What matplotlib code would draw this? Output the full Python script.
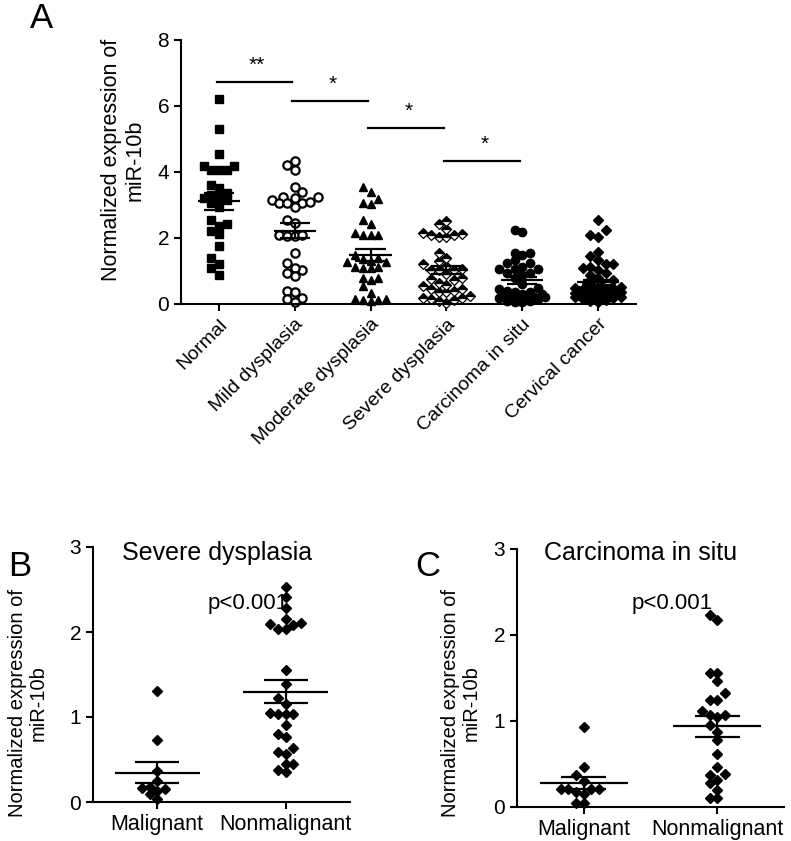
import numpy as np
import matplotlib
matplotlib.use('Agg')
import matplotlib.pyplot as plt

plt.rcParams['font.family'] = ['Liberation Sans', 'DejaVu Sans']

# ---------------- data ----------------
categories_A = ['Normal', 'Mild dysplasia', 'Moderate dysplasia',
                'Severe dysplasia', 'Carcinoma in situ', 'Cervical cancer']

normal = [6.2, 5.3, 4.55, 4.17, 4.18, 4.05, 4.05, 4.05, 3.62, 3.52, 3.37, 3.3,
          3.2, 3.15, 3.2, 3.05, 2.95, 2.55, 2.42, 2.35, 2.22, 2.12, 1.77, 1.4,
          1.2, 1.08, 0.87]
mild = [4.34, 4.21, 4.06, 3.54, 3.4, 3.25, 3.22, 3.25, 3.15, 3.06, 3.06, 3.05,
        3.08, 2.95, 2.55, 2.44, 2.1, 2.07, 2.07, 2.1, 1.54, 1.23, 1.03, 0.95,
        1.08, 0.85, 0.4, 0.35, 0.17, 0.14, 0.07]
moderate = [3.54, 3.4, 3.05, 3.03, 3.18, 2.42, 2.55, 2.1, 2.08, 2.1, 2.15, 1.48,
            1.38, 1.3, 1.28, 1.26, 1.35, 1.08, 1.12, 1.13, 1.08, 0.78, 0.8, 0.73,
            0.55, 0.34, 0.15, 0.12, 0.12, 0.15, 0.09]
severe_malignant = [1.31, 0.73, 0.37, 0.25, 0.17, 0.15, 0.13, 0.18, 0.09, 0.04]
severe_nonmalignant = [2.53, 2.41, 2.28, 2.15, 2.11, 2.08, 2.03, 2.03, 2.1, 1.55,
                       1.39, 1.22, 1.15, 1.04, 1.03, 1.03, 1.05, 0.91, 0.76, 0.8,
                       0.64, 0.59, 0.56, 0.45, 0.45, 0.35, 0.38]
cis_malignant = [0.93, 0.46, 0.37, 0.30, 0.21, 0.17, 0.21, 0.21, 0.21, 0.15,
                 0.05, 0.05]
cis_nonmalignant = [2.23, 2.17, 1.56, 1.56, 1.47, 1.32, 1.25, 1.25, 1.12, 1.07,
                    1.07, 1.05, 0.95, 0.87, 0.78, 0.62, 0.47, 0.38, 0.37, 0.31,
                    0.28, 0.2, 0.1, 0.1]
cervical = [2.55, 2.24, 2.09, 2.04, 1.57, 1.45, 1.33, 1.2, 1.2, 1.13, 1.08, 1.03,
            0.93, 0.88, 0.8, 0.72, 0.65,
            0.55, 0.52, 0.5, 0.48, 0.47, 0.45, 0.44, 0.42, 0.42, 0.4, 0.4, 0.38,
            0.38, 0.37, 0.36, 0.35, 0.34, 0.33, 0.32, 0.31, 0.3, 0.3, 0.29, 0.28,
            0.27, 0.26, 0.25, 0.24, 0.22, 0.2, 0.18, 0.15, 0.12, 0.1, 0.06]
severe = severe_malignant + severe_nonmalignant
cis = cis_malignant + cis_nonmalignant

groups_BC = ['Malignant', 'Nonmalignant']
sig_labels = ['**', '*', '*', '*']
sig_heights = [6.72, 6.15, 5.33, 4.33]

yticks_A = [0, 2, 4, 6, 8]
yticks_BC = [0, 1, 2, 3]

# ---------------- helpers ----------------
W, H, DPI = 791, 841, 100
fig = plt.figure(figsize=(W / DPI, H / DPI), dpi=DPI)


def add_ax(l, t, r, b):
    return fig.add_axes([l / W, 1 - b / H, (r - l) / W, (b - t) / H])


def style(ax, fs):
    for s in ['top', 'right']:
        ax.spines[s].set_visible(False)
    for s in ['left', 'bottom']:
        ax.spines[s].set_linewidth(1.5)
    ax.tick_params(width=1.5, length=5, direction='out', labelsize=fs,
                   colors='black')


def swarm(values, ax, d=7.7, maxc=3):
    bb = ax.get_window_extent()
    x0, x1 = ax.get_xlim()
    y0, y1 = ax.get_ylim()
    pxx = bb.width / (x1 - x0)
    pxy = bb.height / (y1 - y0)
    vals = np.asarray(values, float)
    order = np.argsort(vals)
    placed = []
    offs = np.zeros(len(vals))
    cands = [0]
    for m in range(1, maxc + 1):
        cands += [-m, m]
    fine = np.arange(-maxc, maxc + 0.01, 0.5)
    for idx in order:
        y = vals[idx] * pxy
        best = None
        for c in cands:
            x = c * d
            if all((x - px) ** 2 + (y - py) ** 2 >= (0.93 * d) ** 2
                   for px, py in placed):
                best = x
                break
        if best is None:
            scores = []
            for c in fine:
                x = c * d
                mind = min((x - px) ** 2 + (y - py) ** 2 for px, py in placed)
                scores.append(mind - 0.02 * abs(c))
            best = fine[int(np.argmax(scores))] * d
        placed.append((best, y))
        offs[idx] = best / pxx
    return offs


def group(ax, xc, values, mw, cw, maxc=3, **mk):
    offs = swarm(values, ax, maxc=maxc)
    ax.plot(xc + offs, values, linestyle='none', zorder=2, clip_on=False, **mk)
    v = np.asarray(values, float)
    m = v.mean()
    se = v.std(ddof=1) / np.sqrt(len(v))
    kw = dict(color='black', lw=1.6, zorder=3, solid_capstyle='butt')
    ax.plot([xc - mw, xc + mw], [m, m], **kw)
    ax.plot([xc - cw, xc + cw], [m + se, m + se], **kw)
    ax.plot([xc - cw, xc + cw], [m - se, m - se], **kw)
    ax.plot([xc, xc], [m - se, m + se], **kw)


YLAB = 'Normalized expression of\nmiR-10b'

# ---------------- panel A ----------------
axA = add_ax(181, 40, 636, 304)
axA.set_xlim(-0.5, 5.5)
axA.set_ylim(0, 8)
style(axA, 15)
axA.set_yticks(yticks_A)
axA.set_xticks(range(len(categories_A)))
axA.set_xticklabels(categories_A, rotation=45, ha='right', va='top',
                    rotation_mode='anchor', fontsize=14)

dataA = [normal, mild, moderate, severe, cis, cervical]
markersA = [
    dict(marker='s', ms=5.5, mfc='black', mec='black'),
    dict(marker='o', ms=6, mfc='white', mec='black', mew=1.6),
    dict(marker='^', ms=6, mfc='black', mec='black'),
    dict(marker='D', ms=5, fillstyle='top', mfc='black', mfcalt='white',
         mec='black', mew=0.9),
    dict(marker='o', ms=6, mfc='black', mec='black'),
    dict(marker='D', ms=5.5, mfc='black', mec='black'),
]
for i, (vals, mk) in enumerate(zip(dataA, markersA)):
    group(axA, i, vals, 0.28, 0.2, maxc=3, **mk)

for i, (lab, h) in enumerate(zip(sig_labels, sig_heights)):
    axA.plot([i - 0.03, i + 1 - 0.03], [h, h], color='black', lw=1.6,
             clip_on=False)
    axA.text(i + 0.5, h + 0.22, lab, ha='center', va='bottom', fontsize=15)

fig.text(123 / W, 1 - 160 / H, YLAB, rotation=90, ha='center', va='center',
         fontsize=15.5, linespacing=1.15)
fig.text(41 / W, 1 - 18 / H, 'A', ha='center', va='center', fontsize=25)

# ---------------- panel B ----------------
axB = add_ax(93, 547, 350, 802)
axB.set_xlim(-0.5, 1.5)
axB.set_ylim(0, 3)
style(axB, 15)
axB.set_yticks(yticks_BC)
axB.set_xticks([0, 1])
axB.set_xticklabels(groups_BC, fontsize=15.5)
mkD = dict(marker='D', ms=5.5, mfc='black', mec='black')
group(axB, 0, severe_malignant, 0.33, 0.17, **mkD)
group(axB, 1, severe_nonmalignant, 0.33, 0.17, **mkD)
fig.text(217 / W, 1 - 553 / H, 'Severe dysplasia', ha='center', va='center',
         fontsize=18)
fig.text(248 / W, 1 - 603 / H, 'p<0.001', ha='center', va='center',
         fontsize=16)
fig.text(28 / W, 1 - 703 / H, YLAB, rotation=90, ha='center', va='center',
         fontsize=14.5, linespacing=1.15)
fig.text(20 / W, 1 - 566 / H, 'B', ha='center', va='center', fontsize=25)

# ---------------- panel C ----------------
axC = add_ax(517, 549, 784, 807)
axC.set_xlim(-0.5, 1.5)
axC.set_ylim(0, 3)
style(axC, 15)
axC.set_yticks(yticks_BC)
axC.set_xticks([0, 1])
axC.set_xticklabels(groups_BC, fontsize=15.5)
group(axC, 0, cis_malignant, 0.33, 0.17, **mkD)
group(axC, 1, cis_nonmalignant, 0.33, 0.17, **mkD)
fig.text(641 / W, 1 - 553 / H, 'Carcinoma in situ', ha='center', va='center',
         fontsize=18)
fig.text(672 / W, 1 - 603 / H, 'p<0.001', ha='center', va='center',
         fontsize=16)
fig.text(461 / W, 1 - 703 / H, YLAB, rotation=90, ha='center', va='center',
         fontsize=14.5, linespacing=1.15)
fig.text(428 / W, 1 - 566 / H, 'C', ha='center', va='center', fontsize=25)

fig.savefig('out.png', dpi=DPI)
